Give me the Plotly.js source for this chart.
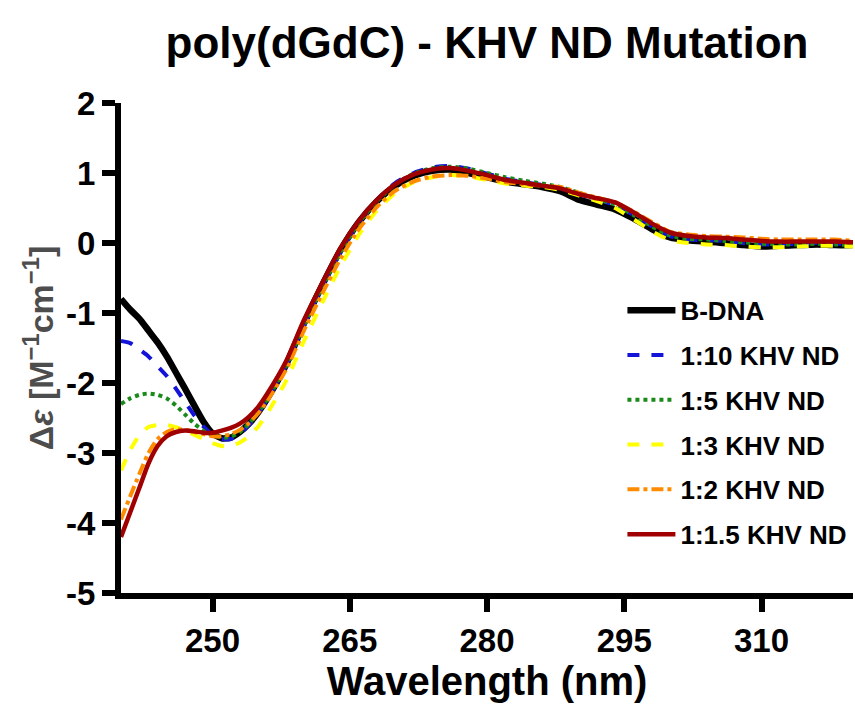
<!DOCTYPE html>
<html>
<head>
<meta charset="utf-8">
<script src="https://cdn.plot.ly/plotly-3.0.1.min.js"></script>
<style>html,body{margin:0;padding:0;background:#fff;}#chart{width:855px;height:708px;}</style>
</head>
<body>
<div id="chart"></div>
<script>
// Wavelength (nm)
const wavelength = [240,241,242,243,244,245,246,247,248,249,250,251,252,253,254,255,256,258,260,262,264,266,268,270,272,274,276,278,280,282,284,286,288,290,292,294,296,298,300,302,304,306,308,310,312,314,316,318,320];

const bDNA = [-0.80,-0.95,-1.08,-1.25,-1.42,-1.62,-1.85,-2.08,-2.32,-2.55,-2.72,-2.79,-2.78,-2.70,-2.58,-2.42,-2.22,-1.75,-1.15,-0.60,-0.10,0.30,0.60,0.82,0.96,1.03,1.05,1.00,0.94,0.88,0.84,0.80,0.74,0.62,0.55,0.48,0.35,0.20,0.08,0.04,0.02,0.00,-0.03,-0.05,-0.04,-0.03,-0.02,-0.03,-0.03];
const r1_10 = [-1.40,-1.43,-1.52,-1.62,-1.76,-1.90,-2.08,-2.27,-2.46,-2.62,-2.74,-2.80,-2.80,-2.72,-2.60,-2.43,-2.23,-1.76,-1.17,-0.62,-0.12,0.30,0.62,0.86,1.00,1.08,1.10,1.06,0.99,0.92,0.87,0.83,0.78,0.70,0.62,0.54,0.40,0.24,0.10,0.05,0.04,0.03,0.00,-0.02,-0.02,-0.01,0.00,-0.01,-0.01];
const r1_5 = [-2.30,-2.22,-2.17,-2.15,-2.17,-2.22,-2.32,-2.45,-2.58,-2.68,-2.74,-2.78,-2.77,-2.70,-2.58,-2.42,-2.23,-1.77,-1.18,-0.63,-0.13,0.29,0.60,0.84,0.99,1.07,1.09,1.06,1.00,0.94,0.89,0.85,0.80,0.72,0.63,0.55,0.40,0.24,0.11,0.06,0.05,0.03,0.01,-0.01,-0.02,-0.02,-0.01,-0.02,-0.03];
const r1_3 = [-3.25,-2.96,-2.75,-2.63,-2.60,-2.60,-2.63,-2.68,-2.74,-2.80,-2.86,-2.90,-2.90,-2.85,-2.76,-2.62,-2.43,-1.98,-1.40,-0.85,-0.33,0.12,0.47,0.72,0.87,0.94,0.97,0.95,0.90,0.85,0.82,0.80,0.76,0.68,0.60,0.50,0.34,0.17,0.04,0.00,-0.02,-0.03,-0.05,-0.06,-0.06,-0.05,-0.04,-0.04,-0.05];
const r1_2 = [-3.95,-3.62,-3.30,-3.00,-2.80,-2.70,-2.66,-2.67,-2.70,-2.73,-2.76,-2.76,-2.73,-2.67,-2.57,-2.43,-2.25,-1.82,-1.25,-0.72,-0.22,0.20,0.52,0.75,0.88,0.95,0.97,0.96,0.92,0.87,0.84,0.82,0.80,0.72,0.65,0.58,0.45,0.30,0.16,0.12,0.10,0.09,0.08,0.06,0.05,0.05,0.05,0.05,0.03];
const r1_1p5 = [-4.20,-3.85,-3.50,-3.15,-2.90,-2.76,-2.70,-2.68,-2.69,-2.71,-2.71,-2.68,-2.64,-2.58,-2.48,-2.34,-2.15,-1.70,-1.10,-0.57,-0.07,0.32,0.62,0.84,0.98,1.05,1.07,1.03,0.97,0.90,0.86,0.82,0.78,0.70,0.64,0.58,0.44,0.28,0.15,0.10,0.08,0.07,0.05,0.03,0.02,0.02,0.02,0.02,0.01];

const seriesNames = ['B-DNA','1:10 KHV ND','1:5 KHV ND','1:3 KHV ND','1:2 KHV ND','1:1.5 KHV ND'];
const xTickVals = [250,265,280,295,310];
const xTickText = ['250','265','280','295','310'];
const yTickVals = [2,1,0,-1,-2,-3,-4,-5];
const yTickText = ['2','1','0','-1','-2','-3','-4','-5'];

const seriesData = [bDNA, r1_10, r1_5, r1_3, r1_2, r1_1p5];
const styles = [
  {color:'#000000', width:6.5, dash:'solid'},
  {color:'#1414d8', width:4, dash:'dash'},
  {color:'#1a8a1a', width:4, dash:'dot'},
  {color:'#ffff00', width:4, dash:'dash'},
  {color:'#ff8c00', width:4, dash:'dashdot'},
  {color:'#a00000', width:4.5, dash:'solid'}
];

const FONT = '"Liberation Sans", Arial, Helvetica, sans-serif';
const traces = seriesData.map((ys, i) => ({
  x: wavelength, y: ys, type:'scatter', mode:'lines', name: seriesNames[i],
  legendgroup: 'g'+i,
  line: Object.assign({shape:'spline', smoothing:0.6}, styles[i])
}));

const layout = {
  width: 855, height: 708,
  paper_bgcolor:'#ffffff', plot_bgcolor:'#ffffff',
  margin: {l:121, r:2, t:103, b:115},
  title: {text:'<b>poly(dGdC) - KHV ND Mutation</b>', font:{family:FONT, size:44, color:'#000'}, x:0.5, xref:'paper', y:0.94, yref:'container', yanchor:'middle'},
  showlegend: true,
  legend: {x:0.685, y:0.625, xanchor:'left', yanchor:'top', itemwidth:48, font:{family:FONT, size:26, color:'#000', weight:'bold'}, tracegroupgap:8, bgcolor:'rgba(0,0,0,0)'},
  xaxis: {
    range:[240,320], showline:true, linewidth:6, linecolor:'#000', showgrid:false, zeroline:false,
    ticks:'outside', ticklen:13, tickwidth:6, tickcolor:'#000',
    tickvals:xTickVals, ticktext:xTickText,
    tickfont:{family:FONT, size:33, color:'#000', weight:'bold'},
    title:{text:'<b>Wavelength (nm)</b>', font:{family:FONT, size:40, color:'#000'}, standoff:10}
  },
  yaxis: {
    range:[-5,2], showline:true, linewidth:6, linecolor:'#000', showgrid:false, zeroline:false,
    ticks:'outside', ticklen:13, tickwidth:6, tickcolor:'#000',
    tickvals:yTickVals, ticktext:yTickText,
    tickfont:{family:FONT, size:33, color:'#000', weight:'bold'},
    title:{text:'<b>Δ<i>ε</i> [M<sup>−1</sup>cm<sup>−1</sup>]</b>', font:{family:FONT, size:34, color:'#4d4d4d'}, standoff:4}
  }
};

Plotly.newPlot('chart', traces, layout, {displayModeBar:false, staticPlot:true});
</script>
</body>
</html>
